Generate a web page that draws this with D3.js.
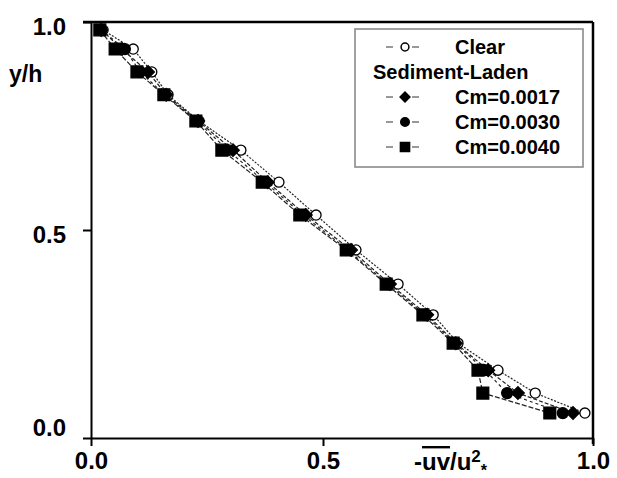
<!DOCTYPE html>
<html lang="en">
  <head>
    <meta charset="utf-8">
    <title>Reynolds stress profile</title>
    <style>
      body { margin: 0; background: #fff; }
      svg text { font-family: "Liberation Sans", Arial, sans-serif; font-weight: bold; fill: #000; }
    </style>
  </head>
  <body>
    <svg class="chart"></svg>
    <script src="https://cdn.jsdelivr.net/npm/d3@7/dist/d3.min.js"></script>
    <script>
      // y/h levels shared by all runs
      const yLevels = [0.981, 0.935, 0.880, 0.825, 0.762, 0.692, 0.615, 0.536, 0.452, 0.370, 0.296, 0.228, 0.163, 0.108, 0.060];
      // -uv/u*^2 for each run
      const clear   = [0.026, 0.091, 0.131, 0.166, 0.233, 0.323, 0.405, 0.485, 0.561, 0.639, 0.704, 0.750, 0.824, 0.893, 0.985];
      const cm0017  = [0.022, 0.067, 0.123, 0.162, 0.231, 0.306, 0.381, 0.463, 0.552, 0.624, 0.693, 0.746, 0.806, 0.861, 0.963];
      const cm0030  = [0.022, 0.073, 0.106, 0.159, 0.228, 0.295, 0.375, 0.457, 0.546, 0.620, 0.689, 0.744, 0.800, 0.841, 0.944];
      const cm0040  = [0.019, 0.052, 0.099, 0.157, 0.226, 0.282, 0.369, 0.450, 0.543, 0.617, 0.685, 0.741, 0.787, 0.796, 0.920];
      const xTicks = [0, 0.5, 1];
      const yTicks = [0, 0.5, 1];

      const series = [
        {name: "Clear", values: clear, symbol: d3.symbolCircle, size: 80, rot: 0, fill: "#fff", dash: "2,1.5"},
        {name: "Cm=0.0017", values: cm0017, symbol: d3.symbolSquare, size: 80, rot: 45, fill: "#000", dash: "4,2"},
        {name: "Cm=0.0030", values: cm0030, symbol: d3.symbolCircle, size: 95, rot: 0, fill: "#000", dash: "3,3"},
        {name: "Cm=0.0040", values: cm0040, symbol: d3.symbolSquare, size: 140, rot: 0, fill: "#000", dash: "5,2"}
      ];

      const svg = d3.select(".chart").attr("width", 617).attr("height", 478);

      // the printed axis is not evenly spaced, so map through its three ticks
      const x = d3.scaleLinear().domain([0, 0.5, 1]).range([91, 323, 593]);
      const y = d3.scaleLinear().domain([0, 1]).range([438, 22]);

      // lines
      const line = d3.line().x(d => x(d[0])).y(d => y(d[1]));
      series.forEach(s => {
        const pts = s.values.map((v, i) => [v, yLevels[i]]);
        svg.append("path").datum(pts)
          .attr("d", line)
          .attr("fill", "none")
          .attr("stroke", "#222")
          .attr("stroke-width", 1.2)
          .attr("stroke-dasharray", s.dash);
      });

      // markers
      series.forEach(s => {
        svg.append("g").selectAll("path")
          .data(s.values.map((v, i) => [v, yLevels[i]]))
          .enter().append("path")
          .attr("transform", d => "translate(" + x(d[0]) + "," + y(d[1]) + ") rotate(" + s.rot + ")")
          .attr("d", d3.symbol().type(s.symbol).size(s.size))
          .attr("fill", s.fill)
          .attr("stroke", "#000")
          .attr("stroke-width", 1.3);
      });

      // axes
      const xAxis = svg.append("g").attr("transform", "translate(0,438)")
        .call(d3.axisBottom(x).tickValues(xTicks).tickFormat(d3.format(".1f")).tickSize(8).tickSizeOuter(0).tickPadding(6));
      const yAxis = svg.append("g").attr("transform", "translate(91,0)")
        .call(d3.axisLeft(y).tickValues(yTicks).tickFormat(d3.format(".1f")).tickSize(8).tickSizeOuter(0).tickPadding(17));
      [xAxis, yAxis].forEach(a => {
        a.selectAll("path, line").attr("stroke", "#000").attr("stroke-width", 2);
        a.selectAll("text").attr("font-size", 24).attr("font-family", null);
      });
      yAxis.selectAll("text").attr("dy", d => d === 0 ? "-0.1em" : "0.5em");

      // frame top and right
      svg.append("line").attr("x1", 83).attr("x2", x(1)).attr("y1", y(1)).attr("y2", y(1))
        .attr("stroke", "#000").attr("stroke-width", 2.5);
      svg.append("line").attr("x1", x(1)).attr("x2", x(1)).attr("y1", y(1)).attr("y2", y(0) + 6)
        .attr("stroke", "#000").attr("stroke-width", 2.5);

      // axis titles
      svg.append("text").attr("x", 9).attr("y", 82).attr("font-size", 23).text("y/h");
      const xt = svg.append("text").attr("x", 414).attr("y", 470).attr("font-size", 24);
      xt.append("tspan").text("-");
      xt.append("tspan").style("text-decoration", "overline").text("uv");
      xt.append("tspan").text("/u");
      xt.append("tspan").attr("dy", -8).attr("font-size", 17).text("2");
      xt.append("tspan").attr("dy", 14).attr("font-size", 16).text("*");

      // legend
      const legend = svg.append("g").attr("id", "legend");
      legend.append("rect").attr("x", 355).attr("y", 29).attr("width", 228).attr("height", 138)
        .attr("fill", "#fff").attr("stroke", "#8a8a8a").attr("stroke-width", 1.6);
      const rows = [
        {s: series[0], cy: 47},
        {s: null, label: "Sediment-Laden", cy: 72},
        {s: series[1], cy: 97},
        {s: series[2], cy: 122},
        {s: series[3], cy: 147}
      ];
      rows.forEach(r => {
        if (r.s) {
          legend.append("line").attr("x1", 386).attr("x2", 425).attr("y1", r.cy).attr("y2", r.cy)
            .attr("stroke", "#333").attr("stroke-width", 1).attr("stroke-dasharray", "7,6,0,13,7");
          legend.append("path").attr("transform", "translate(405," + r.cy + ") rotate(" + r.s.rot + ")")
            .attr("d", d3.symbol().type(r.s.symbol).size(r.s.size * 0.6))
            .attr("fill", r.s.fill).attr("stroke", "#000").attr("stroke-width", 1.5);
          legend.append("text").attr("x", 455).attr("y", r.cy + 7).attr("font-size", 20).text(r.s.name);
        } else {
          legend.append("text").attr("x", 373).attr("y", r.cy + 7).attr("font-size", 20).text(r.label);
        }
      });
    </script>
  </body>
</html>
